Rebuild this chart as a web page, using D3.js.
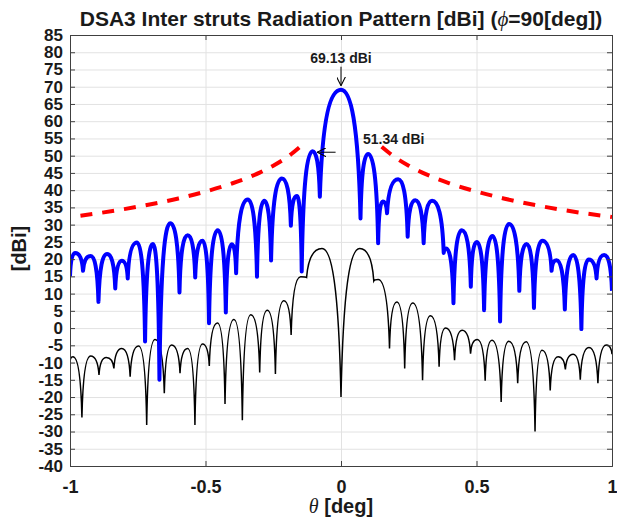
<!DOCTYPE html>
<html lang="en">
<head>
  <meta charset="UTF-8">
  <title>DSA3 Inter struts Radiation Pattern</title>
  <script src="https://d3js.org/d3.v7.min.js"></script>
  <style>
    html, body { margin: 0; padding: 0; background: #fff; }
    text { font-family: "Liberation Sans", Arial, sans-serif; font-weight: bold; fill: #1a1a1a; }
    .grid line { stroke: #e2e2e2; stroke-width: 1; }
    .grid path { display: none; }
    .axis path, .axis line { stroke: #404040; stroke-width: 1; }
    .sym { font-family: "Liberation Serif", "DejaVu Serif", serif; font-style: italic; font-weight: normal; }
  </style>
</head>
<body>
  <div id="container"></div>
  <script>
    const width = 617;
    const height = 523;
    const margin = {top: 35, right: 5, bottom: 57, left: 70};

    // tick values
    const xTicks = [-1, -0.5, 0, 0.5, 1];
    const yTicks = d3.range(-40, 86, 5);

    // blue pattern (peaks and nulls)
    const blueTheta = [-1, -0.981, -0.952, -0.924, -0.895, -0.863, -0.833, -0.809, -0.787, -0.753,
      -0.723, -0.694, -0.670, -0.630, -0.596, -0.566, -0.538, -0.511, -0.487, -0.455,
      -0.425, -0.403, -0.387, -0.344, -0.310, -0.283, -0.258, -0.218, -0.185, -0.163,
      -0.145, -0.105, -0.078, 0, 0.072, 0.100, 0.137, 0.154, 0.170, 0.211,
      0.246, 0.274, 0.305, 0.336, 0.379, 0.388, 0.415, 0.446, 0.479, 0.501,
      0.528, 0.559, 0.587, 0.620, 0.658, 0.685, 0.712, 0.743, 0.777, 0.795,
      0.826, 0.857, 0.887, 0.914, 0.943, 0.971, 1];
    const blueDb = [15, 21.8, 16.6, 20.9, 7.6, 21.5, 11.5, 19.5, 14.4, 24.8,
      -3.9, 24.4, -15, 30.4, 10.3, 26.9, 14.7, 25.3, 1.4, 28.4,
      4.5, 24.3, 15.9, 37.3, 14.9, 36.9, 19.6, 43.4, 29.7, 38.3,
      16.4, 51.3, 38.1, 69.13, 31.8, 50.5, 24.6, 36.7, 33.3, 43.2,
      26.5, 37.1, 24.6, 36.9, 21.8, 23.1, 7.2, 28.4, 12.0, 25.0,
      5.2, 26.7, 1.9, 30.2, 10.8, 24.4, 5.8, 25.3, 16.6, 19.7,
      5.4, 21.2, -0.3, 19.9, 14.4, 21.2, 10.8];

    // black pattern
    const blackTheta = [-1, -0.989, -0.956, -0.924, -0.893, -0.866, -0.838, -0.809, -0.778, -0.747,
      -0.717, -0.686, -0.652, -0.625, -0.594, -0.566, -0.539, -0.511, -0.486, -0.456,
      -0.428, -0.395, -0.364, -0.333, -0.300, -0.272, -0.242, -0.211, -0.184, -0.149,
      -0.127, -0.070, 0, 0.069, 0.121, 0.137, 0.179, 0.206, 0.235, 0.265,
      0.301, 0.330, 0.362, 0.386, 0.419, 0.447, 0.478, 0.503, 0.532, 0.557,
      0.591, 0.619, 0.652, 0.683, 0.716, 0.742, 0.772, 0.801, 0.828, 0.857,
      0.883, 0.915, 0.948, 0.979, 1];
    const blackDb = [-9.7, -8.3, -25.9, -8.1, -13.6, -8.5, -11.7, -5.9, -14.1, -5.2,
      -28.1, -3.3, -18.9, -4.9, -13.1, -5.9, -28.1, -4.6, -11.0, 1.5,
      -22.0, 2.5, -26.7, 3.9, -12.9, 5.2, -13.3, 7.9, -2.0, 14.9,
      14.7, 23.1, -20, 23.1, 13.7, 14.1, -5.9, 7.6, -11.7, 7.3,
      -15.1, 3.6, -11.2, 0, -9.3, -0.6, -7.4, -3.3, -15.3, -3.5,
      -21.4, -3.8, -16.0, -4.0, -30.0, -6.4, -18.1, -8.3, -12.0, -7.6,
      -15.0, -5.6, -16.0, -4.9, -7.6];

    // red dashed mask, two branches
    const maskLeftTheta = [-1, -0.8, -0.6, -0.5, -0.4, -0.3, -0.25, -0.2, -0.154];
    const maskLeftDb = [32.2, 34.5, 37.6, 39.6, 42.0, 45.1, 47.1, 49.5, 52.4];
    const maskRightTheta = [0.15, 0.2, 0.25, 0.3, 0.4, 0.5, 0.6, 0.8, 1];
    const maskRightDb = [52.6, 49.5, 47.1, 45.1, 42.0, 39.6, 37.6, 34.5, 32.2];

    // annotations: arrow tip, arrow tail, label anchor
    const peakLabels = ['69.13 dBi', '51.34 dBi'];
    const peakTip = [[0, 70.3], [-0.088, 51.0]];
    const peakTail = [[0, 75.8], [-0.02, 51.0]];
    const peakText = [[0, 76.9], [0.081, 53.4]];
    const peakAnchor = ['middle', 'start'];

    const innerW = width - margin.left - margin.right;
    const innerH = height - margin.top - margin.bottom;

    const svg = d3.select('#container').append('svg')
      .attr('width', width).attr('height', height);
    const g = svg.append('g').attr('transform', `translate(${margin.left},${margin.top})`);

    const xScale = d3.scaleLinear().domain([-1, 1]).range([0, innerW]);
    const yScale = d3.scaleLinear().domain([-40, 85]).range([innerH, 0]);

    // grid
    g.append('g').attr('class', 'grid')
      .call(d3.axisLeft(yScale).tickValues(yTicks).tickSize(-innerW).tickFormat(''));
    g.append('g').attr('class', 'grid').attr('transform', `translate(0,${innerH})`)
      .call(d3.axisBottom(xScale).tickValues(xTicks).tickSize(-innerH).tickFormat(''));

    // lobe-shaped curve: steep into the nulls, flat over the peaks
    function LobeCurve(context) { this._context = context; }
    LobeCurve.prototype = {
      areaStart() {}, areaEnd() {},
      lineStart() { this._pts = []; },
      point(x, y) { this._pts.push([+x, +y]); },
      lineEnd() {
        const p = this._pts, c = this._context;
        if (!p.length) return;
        c.moveTo(p[0][0], p[0][1]);
        for (let i = 1; i < p.length; i++) {
          const [x0, y0] = p[i - 1], [x1, y1] = p[i];
          const dx = x1 - x0, dy = y1 - y0;
          if (y0 > y1) {
            c.bezierCurveTo(x0 + dx * 0.12, y0 + dy * 0.75, x1 - dx * 0.5, y1, x1, y1);
          } else {
            c.bezierCurveTo(x0 + dx * 0.5, y0, x1 - dx * 0.12, y1 - dy * 0.75, x1, y1);
          }
        }
      }
    };
    const curveLobe = ctx => new LobeCurve(ctx);

    svg.append('defs').append('clipPath').attr('id', 'plot-clip')
      .append('rect').attr('width', innerW).attr('height', innerH);
    const plot = g.append('g').attr('clip-path', 'url(#plot-clip)');

    const lobeLine = d3.line().x(d => xScale(d[0])).y(d => yScale(d[1])).curve(curveLobe);
    const maskLine = d3.line().x(d => xScale(d[0])).y(d => yScale(d[1])).curve(d3.curveMonotoneX);

    plot.append('path')
      .datum(d3.zip(blackTheta, blackDb))
      .attr('fill', 'none').attr('stroke', '#000').attr('stroke-width', 1.5)
      .attr('d', lobeLine);

    plot.append('path')
      .datum(d3.zip(blueTheta, blueDb))
      .attr('fill', 'none').attr('stroke', '#0000ff').attr('stroke-width', 4)
      .attr('stroke-linejoin', 'round')
      .attr('d', lobeLine);

    plot.selectAll('.mask')
      .data([d3.zip(maskLeftTheta, maskLeftDb), d3.zip(maskRightTheta, maskRightDb)])
      .enter().append('path')
      .attr('class', 'mask')
      .attr('fill', 'none').attr('stroke', '#ff0000').attr('stroke-width', 4)
      .attr('stroke-dasharray', '12 10')
      .attr('d', maskLine)
      .attr('stroke-dashoffset', function(d, i) {
        // left branch: finish on a full dash next to the main lobe
        if (i !== 0) return 0;
        const len = this.getTotalLength();
        return 12 - (len % 22);
      });

    // axes (box with inward ticks)
    const axL = g.append('g').attr('class', 'axis')
      .call(d3.axisLeft(yScale).tickValues(yTicks).tickSize(-5).tickPadding(7).tickFormat(d => String(d)));
    axL.selectAll('text').style('font-size', '17px');
    g.append('g').attr('class', 'axis').attr('transform', `translate(${innerW},0)`)
      .call(d3.axisRight(yScale).tickValues(yTicks).tickSize(-5).tickFormat(''));
    const axB = g.append('g').attr('class', 'axis').attr('transform', `translate(0,${innerH})`)
      .call(d3.axisBottom(xScale).tickValues(xTicks).tickSize(-5).tickPadding(14).tickFormat(d => String(d)));
    axB.selectAll('text').style('font-size', '18px');
    g.append('g').attr('class', 'axis')
      .call(d3.axisTop(xScale).tickValues(xTicks).tickSize(-5).tickFormat(''));
    g.selectAll('.axis .domain').attr('stroke', '#404040');

    // peak annotations
    const marker = svg.select('defs').append('marker')
      .attr('id', 'arrow').attr('viewBox', '0 0 10 10')
      .attr('refX', 10).attr('refY', 5)
      .attr('markerWidth', 9).attr('markerHeight', 9)
      .attr('markerUnits', 'userSpaceOnUse')
      .attr('orient', 'auto');
    marker.append('path').attr('d', 'M0,0 L10,5 L0,10')
      .attr('fill', 'none').attr('stroke', '#000').attr('stroke-width', 1.2);

    peakLabels.forEach((lab, i) => {
      g.append('line')
        .attr('x1', xScale(peakTail[i][0])).attr('y1', yScale(peakTail[i][1]))
        .attr('x2', xScale(peakTip[i][0])).attr('y2', yScale(peakTip[i][1]))
        .attr('stroke', '#000').attr('stroke-width', 1)
        .attr('marker-end', 'url(#arrow)');
      g.append('text')
        .attr('x', xScale(peakText[i][0])).attr('y', yScale(peakText[i][1]))
        .attr('text-anchor', peakAnchor[i])
        .style('font-size', '14px')
        .text(lab);
    });

    // title and axis labels
    const title = svg.append('text')
      .attr('x', margin.left + innerW / 2).attr('y', 26)
      .attr('text-anchor', 'middle').style('font-size', '21px');
    title.append('tspan').text('DSA3 Inter struts Radiation Pattern [dBi] (');
    title.append('tspan').attr('class', 'sym').text('ϕ');
    title.append('tspan').text('=90[deg])');

    const xl = svg.append('text')
      .attr('x', margin.left + xScale(0)).attr('y', 513)
      .attr('text-anchor', 'middle').style('font-size', '20px');
    xl.append('tspan').attr('class', 'sym').text('θ');
    xl.append('tspan').text(' [deg]');

    svg.append('text')
      .attr('transform', `translate(26,${margin.top + innerH * 0.5 - 2}) rotate(-90)`)
      .attr('text-anchor', 'middle').style('font-size', '20px')
      .text('[dBi]');
  </script>
</body>
</html>
